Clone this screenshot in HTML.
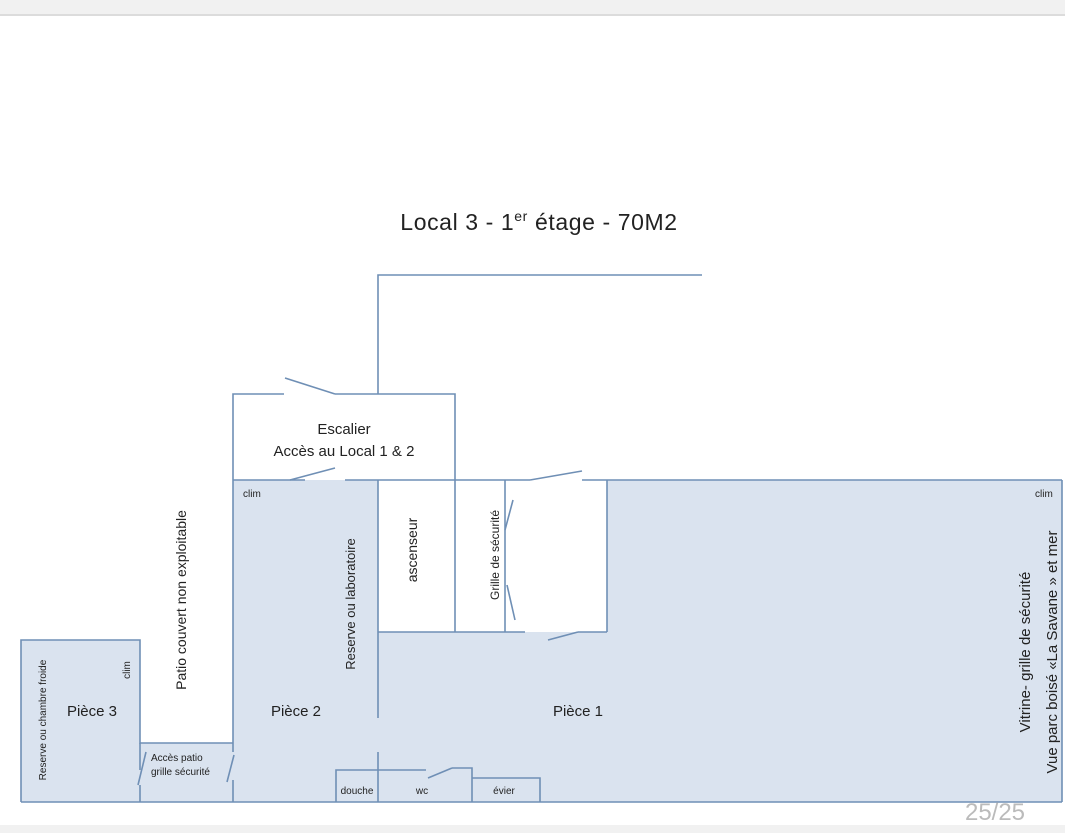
<!DOCTYPE html>
<html><head><meta charset="utf-8"><style>
html,body{margin:0;padding:0;background:#fff;}
svg{display:block;}
text{font-family:"Liberation Sans",sans-serif;fill:#222;}
</style></head><body>
<svg width="1065" height="833" viewBox="0 0 1065 833" xmlns="http://www.w3.org/2000/svg">
<rect x="0" y="0" width="1065" height="14" fill="#f1f1f1"/>
<rect x="0" y="14" width="1065" height="2" fill="#dcdcdc"/>
<rect x="0" y="825" width="1065" height="8" fill="#f1f1f1"/>
<text x="539" y="230" font-size="23" text-anchor="middle" letter-spacing="0.6">Local  3 - 1<tspan font-size="14" dy="-9">er</tspan><tspan dy="9"> étage - 70M2</tspan></text>
<g fill="#dae3ef" stroke="none">
<rect x="21" y="640" width="119" height="162"/>
<rect x="140" y="743" width="93" height="59"/>
<rect x="233" y="480" width="145" height="322"/>
<rect x="378" y="632" width="684" height="170"/>
<rect x="607" y="480" width="455" height="152"/>
</g>
<g fill="none" stroke="#6f8fb5" stroke-width="1.6">
<polyline points="21,802 21,640 140,640 140,743 233,743"/>
<line x1="21" y1="802" x2="1062" y2="802"/>
<line x1="140" y1="743" x2="140" y2="770"/><line x1="140" y1="785" x2="140" y2="802"/>
<line x1="138" y1="785" x2="146" y2="752"/>
<line x1="233" y1="743" x2="233" y2="752"/><line x1="233" y1="780" x2="233" y2="802"/>
<line x1="227" y1="782" x2="234" y2="755"/>
<line x1="233" y1="480" x2="233" y2="743"/>
<polyline points="233,480 233,394 284,394"/>
<line x1="285" y1="378" x2="335" y2="394"/>
<polyline points="335,394 455,394 455,632"/>
<polyline points="378,394 378,275 702,275"/>
<line x1="233" y1="480" x2="305" y2="480"/>
<line x1="290" y1="480" x2="335" y2="468"/>
<line x1="345" y1="480" x2="530" y2="480"/>
<line x1="530" y1="480" x2="582" y2="471"/>
<line x1="582" y1="480" x2="1062" y2="480"/>
<line x1="378" y1="480" x2="378" y2="718"/>
<line x1="378" y1="752" x2="378" y2="802"/>
<line x1="607" y1="480" x2="607" y2="632"/>
<line x1="505" y1="480" x2="505" y2="632"/>
<line x1="505" y1="530" x2="513" y2="500"/>
<line x1="507" y1="585" x2="515" y2="620"/>
<line x1="378" y1="632" x2="525" y2="632"/>
<line x1="548" y1="640" x2="578" y2="632"/>
<line x1="578" y1="632" x2="607" y2="632"/>
<polyline points="336,802 336,770 426,770"/>
<line x1="428" y1="778" x2="452" y2="768"/>
<polyline points="452,768 472,768 472,802"/>
<polyline points="472,778 540,778 540,802"/>
<line x1="1062" y1="480" x2="1062" y2="802"/>
</g>
<text x="344" y="434" font-size="15" text-anchor="middle">Escalier</text>
<text x="344" y="456" font-size="15" text-anchor="middle">Accès au Local 1 &amp; 2</text>
<text x="243" y="497" font-size="10">clim</text>
<text x="1035" y="497" font-size="10">clim</text>
<text x="92" y="716" font-size="15" text-anchor="middle">Pièce 3</text>
<text x="296" y="716" font-size="15" text-anchor="middle">Pièce 2</text>
<text x="578" y="716" font-size="15" text-anchor="middle">Pièce 1</text>
<text transform="translate(130,670) rotate(-90)" font-size="10" text-anchor="middle">clim</text>
<text transform="translate(46,720) rotate(-90)" font-size="10" text-anchor="middle">Reserve ou chambre froide</text>
<text transform="translate(186,600) rotate(-90)" font-size="14" text-anchor="middle">Patio couvert non exploitable</text>
<text transform="translate(355,604) rotate(-90)" font-size="13" text-anchor="middle">Reserve ou laboratoire</text>
<text transform="translate(417,550) rotate(-90)" font-size="14" text-anchor="middle">ascenseur</text>
<text transform="translate(499,555) rotate(-90)" font-size="12" text-anchor="middle">Grille de sécurité</text>
<text transform="translate(1030,652) rotate(-90)" font-size="15" text-anchor="middle">Vitrine- grille de sécurité</text>
<text transform="translate(1057,652) rotate(-90)" font-size="15" text-anchor="middle">Vue parc boisé «La Savane » et mer</text>
<text x="151" y="761" font-size="10">Accès patio</text>
<text x="151" y="775" font-size="10">grille sécurité</text>
<text x="357" y="794" font-size="10" text-anchor="middle">douche</text>
<text x="422" y="794" font-size="10" text-anchor="middle">wc</text>
<text x="504" y="794" font-size="10" text-anchor="middle">évier</text>
<text x="995" y="820" font-size="24" text-anchor="middle" style="fill:#bbb">25/25</text>
</svg>
</body></html>
